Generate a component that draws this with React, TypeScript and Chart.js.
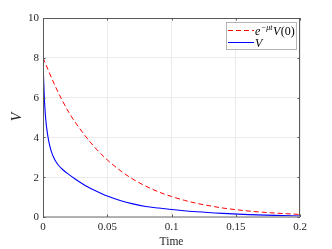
import React, { useEffect, useRef } from "react";
import { Chart, registerables } from "chart.js";

Chart.register(...registerables);

const redT = [0, 0.01, 0.02, 0.03, 0.04, 0.05, 0.06, 0.07, 0.08, 0.09, 0.1, 0.11, 0.12, 0.13, 0.14, 0.15, 0.16, 0.17, 0.18, 0.19, 0.2];
const redV = [8, 6.51, 5.27, 4.32, 3.52, 2.87, 2.34, 1.9, 1.55, 1.26, 1.03, 0.84, 0.68, 0.56, 0.45, 0.37, 0.3, 0.245, 0.2, 0.163, 0.13];

const blueT = [0, 0.0005, 0.001, 0.0015, 0.002, 0.003, 0.004, 0.005, 0.006, 0.007, 0.008, 0.009, 0.01, 0.012, 0.015, 0.02, 0.025, 0.03, 0.035, 0.04, 0.045, 0.05, 0.06, 0.07, 0.08, 0.09, 0.1, 0.12, 0.14, 0.16, 0.18, 0.2];
const blueV = [8, 6.9, 6.05, 5.45, 5.0, 4.4, 3.98, 3.65, 3.4, 3.2, 3.04, 2.9, 2.79, 2.6, 2.4, 2.14, 1.91, 1.7, 1.51, 1.34, 1.19, 1.05, 0.83, 0.66, 0.53, 0.45, 0.38, 0.26, 0.18, 0.12, 0.08, 0.05];

const xTickLabels = ["0", "0.05", "0.1", "0.15", "0.2"];
const yTickLabels = ["0", "2", "4", "6", "8", "10"];

const xTitle = "Time";
const yTitle = "V";

const SERIF = "'Liberation Serif', 'Times New Roman', serif";
Chart.defaults.font.family = SERIF;

const decorPlugin = {
  id: "decor",
  afterDraw(chart: any) {
    const ctx = chart.ctx;
    const a = chart.chartArea;
    const xs = chart.scales.x;
    const ys = chart.scales.y;
    ctx.save();
    // box
    ctx.strokeStyle = "#5a5a5a";
    ctx.lineWidth = 1;
    ctx.beginPath();
    ctx.moveTo(a.left + 0.5, a.bottom);
    ctx.lineTo(a.left + 0.5, a.top + 0.5);
    ctx.lineTo(a.right - 0.5, a.top + 0.5);
    ctx.lineTo(a.right - 0.5, a.bottom);
    ctx.stroke();
    ctx.strokeStyle = "#9a9a9a";
    ctx.lineWidth = 1.5;
    ctx.beginPath();
    ctx.moveTo(a.left, a.bottom);
    ctx.lineTo(a.right, a.bottom);
    ctx.stroke();
    // inward ticks
    ctx.strokeStyle = "#5a5a5a";
    ctx.lineWidth = 1;
    const tl = 2.5;
    ctx.beginPath();
    xs.ticks.forEach((t: any) => {
      const px = Math.round(xs.getPixelForValue(t.value)) + 0.5;
      ctx.moveTo(px, a.bottom);
      ctx.lineTo(px, a.bottom - tl);
      ctx.moveTo(px, a.top);
      ctx.lineTo(px, a.top + tl);
    });
    ys.ticks.forEach((t: any) => {
      const py = Math.round(ys.getPixelForValue(t.value)) + 0.5;
      ctx.moveTo(a.left, py);
      ctx.lineTo(a.left + tl, py);
      ctx.moveTo(a.right, py);
      ctx.lineTo(a.right - tl, py);
    });
    ctx.stroke();

    // tick labels
    ctx.fillStyle = "#262626";
    ctx.font = `11px ${SERIF}`;
    ctx.textAlign = "center";
    ctx.textBaseline = "middle";
    xTickLabels.forEach((l) => {
      ctx.fillText(l, xs.getPixelForValue(parseFloat(l)), a.bottom + 10.5);
    });
    ctx.textAlign = "right";
    yTickLabels.forEach((l) => {
      ctx.fillText(l, a.left - 4, ys.getPixelForValue(parseFloat(l)) + 0.5);
    });

    // axis titles
    ctx.textAlign = "center";
    ctx.textBaseline = "middle";
    ctx.font = `11.5px ${SERIF}`;
    ctx.fillText(xTitle, (a.left + a.right) / 2, 241.5);
    ctx.save();
    ctx.translate(17, 117);
    ctx.rotate(-Math.PI / 2);
    ctx.font = `italic 14px ${SERIF}`;
    ctx.fillText(yTitle, 0, 0);
    ctx.restore();

    // legend
    const lx = 226.5, ly = 22.5, lw = 70, lh = 27;
    ctx.fillStyle = "#ffffff";
    ctx.fillRect(lx, ly, lw, lh);
    ctx.strokeStyle = "#b4b4b4";
    ctx.lineWidth = 1;
    ctx.strokeRect(lx, ly, lw, lh);

    ctx.lineWidth = 1;
    ctx.strokeStyle = "#ff0000";
    ctx.setLineDash([5, 3]);
    ctx.beginPath();
    ctx.moveTo(228, 30.5);
    ctx.lineTo(254, 30.5);
    ctx.stroke();
    ctx.setLineDash([]);
    ctx.strokeStyle = "#0000ff";
    ctx.beginPath();
    ctx.moveTo(228, 42.5);
    ctx.lineTo(254, 42.5);
    ctx.stroke();

    ctx.fillStyle = "#000000";
    ctx.textAlign = "left";
    ctx.textBaseline = "alphabetic";
    let x = 255;
    const b1 = 34.5;
    ctx.font = `italic 12px ${SERIF}`;
    ctx.fillText("e", x, b1);
    x += ctx.measureText("e").width + 0.5;
    ctx.font = `italic 8px ${SERIF}`;
    ctx.fillText("\u2212\u03bct", x, b1 - 5);
    x += ctx.measureText("\u2212\u03bct").width + 0.5;
    ctx.font = `italic 12px ${SERIF}`;
    ctx.fillText("V", x, b1);
    x += ctx.measureText("V").width + 0.5;
    ctx.font = `12px ${SERIF}`;
    ctx.fillText("(0)", x, b1);
    ctx.font = `italic 12px ${SERIF}`;
    ctx.fillText("V", 255, 46.5);
    ctx.restore();
  },
};

export default function App() {
  const ref = useRef<HTMLCanvasElement | null>(null);
  useEffect(() => {
    if (!ref.current) return;
    let chart: any = null;
    let cancelled = false;
    const make = () => {
      if (cancelled || !ref.current) return;
      chart = new Chart(ref.current, {
        type: "line",
        data: {
          datasets: [
            {
              label: "red",
              data: redT.map((t, i) => ({ x: t, y: redV[i] })),
              borderColor: "#ff0000",
              borderWidth: 1,
              borderDash: [5, 3],
              pointRadius: 0,
              cubicInterpolationMode: "monotone",
              fill: false,
            },
            {
              label: "V",
              data: blueT.map((t, i) => ({ x: t, y: blueV[i] })),
              borderColor: "#0000ff",
              borderWidth: 1.1,
              pointRadius: 0,
              cubicInterpolationMode: "monotone",
              fill: false,
            },
          ],
        },
        options: {
          responsive: false,
          animation: false,
          layout: { padding: { top: 18, right: 32, left: 0, bottom: 0 } },
          plugins: { legend: { display: false }, tooltip: { enabled: false } },
          scales: {
            x: {
              type: "linear",
              min: 0,
              max: 0.2,
              afterFit: (s: any) => { s.height = 32; },
              afterBuildTicks: (s: any) => {
                s.ticks = xTickLabels.map((l) => ({ value: parseFloat(l) }));
              },
              ticks: { display: false },
              grid: { color: "#ebebeb", lineWidth: 1, drawTicks: false },
              border: { display: false },
            },
            y: {
              type: "linear",
              min: 0,
              max: 10,
              afterFit: (s: any) => { s.width = 43; },
              afterBuildTicks: (s: any) => {
                s.ticks = yTickLabels.map((l) => ({ value: parseFloat(l) }));
              },
              ticks: { display: false },
              grid: { color: "#ebebeb", lineWidth: 1, drawTicks: false },
              border: { display: false },
            },
          },
        },
        plugins: [decorPlugin],
      });
    };
    const fonts: any = (document as any).fonts;
    if (fonts && fonts.load) {
      Promise.all([
        fonts.load(`11px "Liberation Serif"`),
        fonts.load(`italic 12px "Liberation Serif"`),
      ]).then(make, make);
    } else {
      make();
    }
    return () => {
      cancelled = true;
      if (chart) chart.destroy();
    };
  }, []);
  return (
    <div style={{ position: "fixed", left: 0, top: 0, width: 332, height: 249, background: "#fff" }}>
      <canvas ref={ref} width={332} height={249} style={{ display: "block" }} />
    </div>
  );
}
